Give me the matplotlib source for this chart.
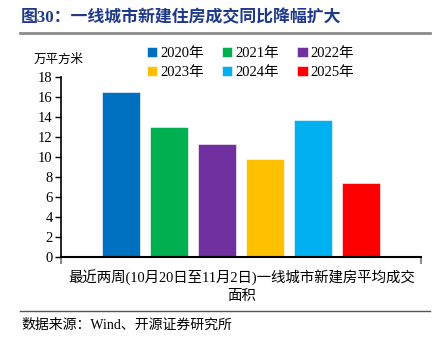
import matplotlib
matplotlib.use('Agg')
import matplotlib.pyplot as plt
import numpy as np

plt.rcParams['font.family'] = ['Liberation Serif', 'Noto Sans CJK SC']

years = ['2020年', '2021年', '2022年', '2023年', '2024年', '2025年']
values = [16.5, 13.0, 11.3, 9.8, 13.7, 7.4]
colors = ['#0070C0', '#00B050', '#7030A0', '#FFC000', '#00B0F0', '#FF0000']
yticks = [0, 2, 4, 6, 8, 10, 12, 14, 16, 18]

fig = plt.figure(figsize=(4.46, 3.46), dpi=100)
ax = fig.add_axes([0.1368, 0.2572, 0.8072, 0.5203])

step = 0.1333
width = 0.1056
n = len(values)
bars = []
for i, (yr, v, c) in enumerate(zip(years, values, colors)):
    x = (i - (n - 1) / 2) * step
    b = ax.bar(x, v, width=width, color=c, label=yr, edgecolor='white', linewidth=0.4)
    bars.append(b)

ax.set_xlim(-0.5, 0.5)
ax.set_ylim(0, 18)
ax.set_yticks(yticks)
ax.set_xticks([-0.5, 0.5])
ax.set_xticklabels(['', ''])
ax.tick_params(axis='y', direction='out', length=4, width=1, labelsize=10.5, pad=2)
ax.tick_params(axis='x', direction='out', length=5, width=1.2, color='#777777')
for s in ['top', 'right']:
    ax.spines[s].set_visible(False)
ax.spines['left'].set_linewidth(1.2)
ax.spines['bottom'].set_linewidth(1.5)

# category label under the axis
fig.text(0.541, 0.200, '最近两周(10月20日至11月2日)一线城市新建房平均成交',
         ha='center', va='center', fontsize=10.4)
fig.text(0.541, 0.143, '面积', ha='center', va='center', fontsize=10.4)

# unit label
fig.text(0.076, 0.826, '万平方米', ha='left', va='center', fontsize=9)

# legend filled row by row
order = [0, 3, 1, 4, 2, 5]
leg = ax.legend([bars[i] for i in order], [years[i] for i in order],
                ncol=3, loc='center left', bbox_to_anchor=(0.330, 0.818),
                bbox_transform=fig.transFigure, frameon=False,
                handlelength=0.7, handleheight=0.7, handletextpad=0.2,
                columnspacing=1.25, labelspacing=0.35, fontsize=10.5,
                borderaxespad=0, borderpad=0)

# title and rules
fig.text(0.047, 0.948, '图30：一线城市新建住房成交同比降幅扩大', ha='left', va='center',
         fontsize=12.2, fontweight='bold', color='#1F3A8A')
fig.add_artist(plt.Line2D([0.045, 0.965], [0.905, 0.905], transform=fig.transFigure,
                          color='#8C8C8C', linewidth=2))
fig.add_artist(plt.Line2D([0.045, 0.965], [0.101, 0.101], transform=fig.transFigure,
                          color='#555555', linewidth=1))
fig.text(0.047, 0.060, '数据来源：Wind、开源证券研究所', ha='left', va='center', fontsize=10)

fig.savefig('out.png', dpi=100)
